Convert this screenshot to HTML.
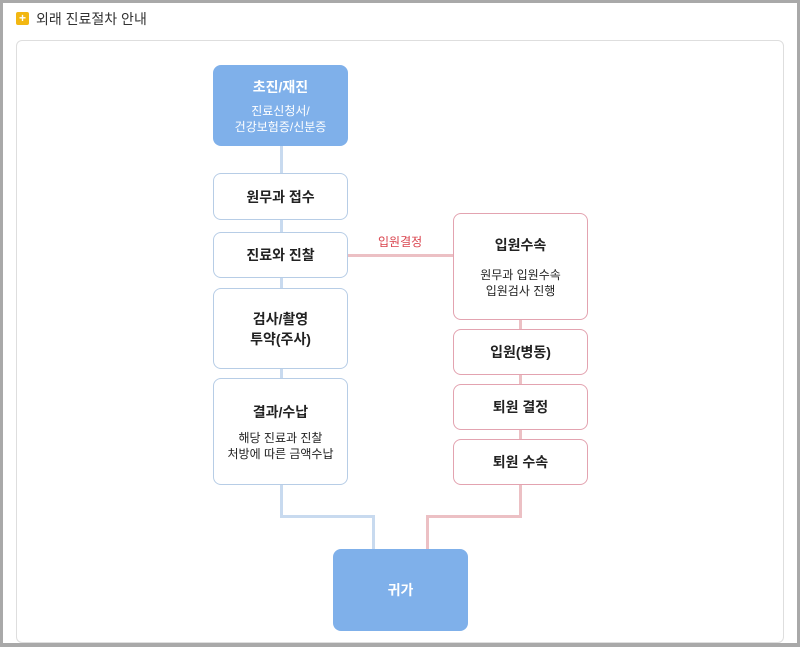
<!DOCTYPE html>
<html style="width:800px;height:647px;overflow:hidden"><head><meta charset="utf-8"><style>
*{margin:0;padding:0;box-sizing:border-box}
body{width:800px;height:647px;background:#a9a9a9;position:relative;overflow:hidden;font-family:"Liberation Sans","Noto Sans CJK KR",sans-serif}
.page{position:absolute;left:3px;top:3px;width:794px;height:640px;background:#fff}
.icon{position:absolute;left:16px;top:12px;width:13px;height:13px;background:#f2b712;border-radius:2px;color:#fff;font-size:12px;line-height:13px;text-align:center;font-weight:bold}
.title{position:absolute;left:36px;top:9px;font-size:14px;color:#333}
.card{position:absolute;left:16px;top:40px;width:768px;height:603px;border:1px solid #dedede;border-radius:6px;background:#fff}
.b{position:absolute;border-radius:8px;text-align:center;display:flex;flex-direction:column;justify-content:center;align-items:center;color:#222;font-weight:bold;font-size:14px;background:#fff}
.bl{border:1.5px solid #b7cde6}
.pk{border:1.5px solid #e3a3b0}
.f{background:#7fb0ea;color:#fff}
.s{font-size:12px;font-weight:normal;line-height:16px;margin-top:8px}
.l{position:absolute}
.band{position:absolute;left:0;top:643px;width:800px;height:4px;background:#a9a9a9}
</style></head><body>
<div class="page"></div>
<div class="icon">+</div>
<div class="title">외래 진료절차 안내</div>
<div class="card"></div>
<div class="l" style="left:280px;top:145px;width:3px;height:372px;background:#c8daef"></div>
<div class="l" style="left:280px;top:515px;width:95px;height:3px;background:#c8daef"></div>
<div class="l" style="left:372px;top:515px;width:3px;height:35px;background:#c8daef"></div>
<div class="l" style="left:519px;top:320px;width:3px;height:198px;background:#ecc0c4"></div>
<div class="l" style="left:426px;top:515px;width:96px;height:3px;background:#ecc0c4"></div>
<div class="l" style="left:426px;top:515px;width:3px;height:35px;background:#ecc0c4"></div>
<div class="l" style="left:348px;top:254px;width:106px;height:3px;background:#ecc0c4"></div>
<div class="l" style="left:378px;top:233px;font-size:12px;color:#d9424c">입원결정</div>
<div class="b f" style="left:213px;top:65px;width:135px;height:81px">초진/재진<div class="s" style="margin-top:6px">진료신청서/<br>건강보험증/신분증</div></div>
<div class="b bl" style="left:213px;top:173px;width:135px;height:47px">원무과 접수</div>
<div class="b bl" style="left:213px;top:232px;width:135px;height:46px">진료와 진찰</div>
<div class="b bl" style="left:213px;top:288px;width:135px;height:81px;line-height:20px">검사/촬영<br>투약(주사)</div>
<div class="b bl" style="left:213px;top:378px;width:135px;height:107px">결과/수납<div class="s">해당 진료과 진찰<br>처방에 따른 금액수납</div></div>
<div class="b pk" style="left:453px;top:213px;width:135px;height:107px">입원수속<div class="s" style="margin-top:12px">원무과 입원수속<br>입원검사 진행</div></div>
<div class="b pk" style="left:453px;top:329px;width:135px;height:46px">입원(병동)</div>
<div class="b pk" style="left:453px;top:384px;width:135px;height:46px">퇴원 결정</div>
<div class="b pk" style="left:453px;top:439px;width:135px;height:46px">퇴원 수속</div>
<div class="b f" style="left:333px;top:549px;width:135px;height:82px">귀가</div>
<div class="band"></div>
</body></html>
